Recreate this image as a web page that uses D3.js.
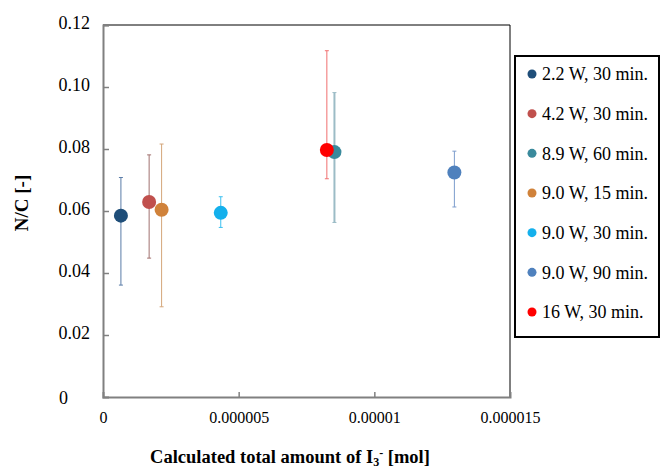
<!DOCTYPE html>
<html><head><meta charset="utf-8">
<script src="https://cdn.jsdelivr.net/npm/d3@7"></script>
<style>body{margin:0;background:#fff;} svg{display:block;} svg text{font-family:"Liberation Serif","Times New Roman",Times,"DejaVu Serif",serif !important;}</style>
</head><body>
<svg id="c" width="661" height="469"></svg>
<script>
const labels = ["2.2 W, 30 min.","4.2 W, 30 min.","8.9 W, 60 min.","9.0 W, 15 min.","9.0 W, 30 min.","9.0 W, 90 min.","16 W, 30 min."];
const xVals = [0.66e-6, 1.70e-6, 8.53e-6, 2.16e-6, 4.34e-6, 12.95e-6, 8.25e-6];
const yVals = [0.0585, 0.0629, 0.0790, 0.0604, 0.0594, 0.0724, 0.0797];
const yHigh = [0.0708, 0.0781, 0.0982, 0.0816, 0.0646, 0.0793, 0.1117];
const yLow  = [0.0361, 0.0448, 0.0563, 0.0291, 0.0547, 0.0613, 0.0704];
const colors = ["#1f4e79","#c0504d","#3a8a9c","#d0823a","#14b0ec","#4f81bd","#ff0000"];
const errColors = ["#5a7ca8","#a0706e","#9cbcc6","#d4a67a","#3cc0f0","#7c9ccc","#f07070"];
const errWidths = [1,1,2,1,1,1,1];
const xTicks = [0, 0.000005, 0.00001, 0.000015];
const xTickLabels = ["0","0.000005","0.00001","0.000015"];
const yTicks = [0,0.02,0.04,0.06,0.08,0.10,0.12];
const yTickLabels = ["0","0.02","0.04","0.06","0.08","0.10","0.12"];
const drawOrder = [0,1,3,4,2,5,6];

const svg = d3.select("#c");
const L=103, T=25, R=510, B=397;
const x = d3.scaleLinear().domain([0,0.000015]).range([L,R]);
const y = d3.scaleLinear().domain([0,0.12]).range([B,T]);

// frame top/right
svg.append("line").attr("x1",L).attr("x2",R).attr("y1",T).attr("y2",T).attr("stroke","#000").attr("stroke-width",1);
svg.append("line").attr("x1",R).attr("x2",R).attr("y1",T).attr("y2",B).attr("stroke","#000").attr("stroke-width",1);

// y axis
const ya = svg.append("g").attr("transform",`translate(${L},0)`)
  .call(d3.axisRight(y).tickValues(yTicks).tickSize(6).tickFormat((d,i)=>yTickLabels[i]));
ya.select(".domain").attr("stroke","#808080").attr("stroke-width",2);
ya.selectAll(".tick line").attr("stroke","#808080").attr("stroke-width",1.5);
ya.selectAll(".tick text").attr("x",-13).attr("text-anchor","end").attr("font-size",18)
  .attr("fill","#000")
  .attr("dy",(d)=> d===0 ? "0.35em" : "0.2em");
ya.selectAll(".tick").filter(d=>d===0).select("text").attr("x",-35);
ya.selectAll(".tick").filter(d=>d===0).select("line").remove();

// x axis
const xa = svg.append("g").attr("transform",`translate(0,${B})`)
  .call(d3.axisTop(x).tickValues(xTicks).tickSize(5).tickFormat((d,i)=>xTickLabels[i]));
xa.select(".domain").attr("stroke","#808080").attr("stroke-width",2);
xa.selectAll(".tick line").attr("stroke","#808080").attr("stroke-width",1.5);
xa.selectAll(".tick").filter(d=>d===0||d===0.000015).select("line").remove();
xa.selectAll(".tick text").attr("y",26).attr("dy","0").attr("font-size",16)
  .attr("fill","#000");

// error bars and points
const g = svg.append("g");
drawOrder.forEach(i=>{
  const cx = x(xVals[i]);
  g.append("line").attr("x1",cx).attr("x2",cx).attr("y1",y(yLow[i])).attr("y2",y(yHigh[i]))
    .attr("stroke",errColors[i]).attr("stroke-width",errWidths[i]);
  [yLow[i],yHigh[i]].forEach(v=>{
    g.append("line").attr("x1",cx-2).attr("x2",cx+2).attr("y1",y(v)).attr("y2",y(v))
      .attr("stroke",errColors[i]).attr("stroke-width",1);
  });
});
drawOrder.forEach(i=>{
  g.append("circle").attr("cx",x(xVals[i])).attr("cy",y(yVals[i])).attr("r",7).attr("fill",colors[i]);
});

// axis titles
svg.append("text").attr("transform","translate(28,203) rotate(-90)").attr("text-anchor","middle")
  .attr("font-size",19).attr("font-weight","bold").text("N/C [-]");
const xt = svg.append("text").attr("x",290).attr("y",463).attr("text-anchor","middle")
  .attr("font-size",18.5).attr("font-weight","bold");
xt.append("tspan").text("Calculated total amount of I");
xt.append("tspan").attr("font-size",12).attr("dy",3).text("3");
xt.append("tspan").attr("font-size",12).attr("dy",-9).text("-");
xt.append("tspan").attr("dy",6).text(" [mol]");

// legend
const lg = svg.append("g");
lg.append("rect").attr("x",515).attr("y",56).attr("width",144).attr("height",281)
  .attr("fill","#fff").attr("stroke","#000").attr("stroke-width",2);
const ly = d3.scalePoint().domain(d3.range(labels.length)).range([74,312]);
labels.forEach((lab,i)=>{
  lg.append("circle").attr("cx",532).attr("cy",ly(i)).attr("r",4.5).attr("fill",colors[i]);
  lg.append("text").attr("x",542).attr("y",ly(i)).attr("dy","0.35em").attr("font-size",18)
    .attr("fill","#000").text(lab);
});
</script>
</body></html>
